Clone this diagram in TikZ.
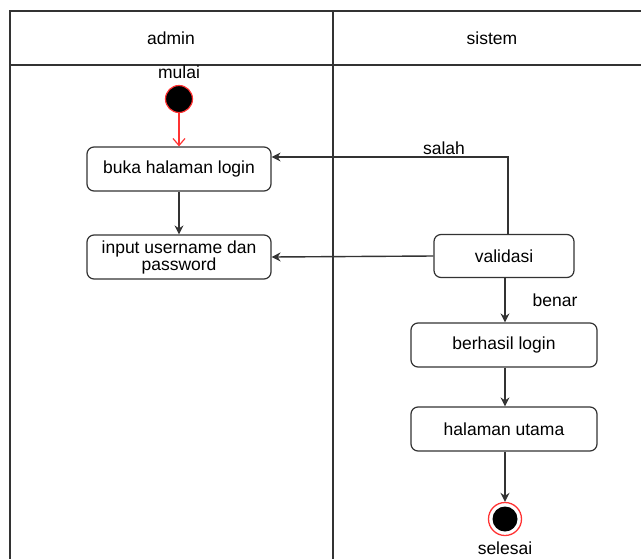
\documentclass[tikz,border=0pt]{standalone}
\usepackage{fontspec}
\setmainfont{Liberation Sans}
\usetikzlibrary{arrows.meta,positioning}
\definecolor{linegray}{HTML}{333333}
\definecolor{startred}{HTML}{FF3333}
\tikzset{
  lane/.style={draw=linegray,line width=1.4pt},
  action/.style={draw=linegray,line width=1.2pt,rounded corners=7pt,fill=white,
    align=center,inner sep=0pt,font=\fontsize{17.5}{17}\selectfont},
  flow/.style={draw=linegray,line width=1.4pt,-{Stealth[length=9pt,width=9pt]}},
  lbl/.style={font=\fontsize{17.5}{17}\selectfont,inner sep=0pt},
}
\begin{document}
\begin{tikzpicture}[x=1pt,y=-1pt]
  \useasboundingbox (0,0) rectangle (641,558);
  \clip (0,0) rectangle (641,558);
  \fill[white] (0,0) rectangle (641,558);

  % swimlanes
  \draw[lane] (10,600) -- (10,11) -- (660,11);
  \draw[lane] (10,65) -- (660,65);
  \draw[lane] (333,11) -- (333,600);
  \node[lbl] (hadmin) at (171,38) {admin};
  \node[lbl] (hsistem) at (492,38) {sistem};

  % start
  \node[circle,fill=black,draw=startred,line width=1.2pt,minimum size=27pt,inner sep=0pt] (start) at (179,99) {};
  \node[lbl] (mulai) at (179,72) {mulai};

  % actions
  \node[action,minimum width=184pt,minimum height=44pt] (buka) at (179,169) {buka halaman login};
  \node[action,minimum width=184pt,minimum height=44pt] (input) at (179,257) {input username dan\\password};
  \node[action,minimum width=140pt,minimum height=43pt] (valid) at (504,256) {validasi};
  \node[action,minimum width=186pt,minimum height=44pt] (berhasil) at (504,345) {berhasil login};
  \node[action,minimum width=186pt,minimum height=44pt] (utama) at (504,429) {halaman utama};

  % end
  \node[circle,draw=startred,line width=1.3pt,fill=white,minimum size=33pt,inner sep=0pt] (end) at (505,519) {};
  \node[circle,fill=black,minimum size=25pt,inner sep=0pt] (endin) at (end.center) {};
  \node[lbl] (selesai) at (505,548) {selesai};

  % flows
  \draw[draw=startred,line width=1.2pt,-{Straight Barb[length=7pt,width=12pt]}] (start) -- (buka);
  \draw[flow] (buka) -- (input);
  \draw[flow] (valid.west) -- (input.east);
  \coordinate (bend) at (508,157);
  \draw[flow] (valid.north -| bend) -- (bend) -- (buka.east |- bend);
  \node[lbl] (salah) at (444,148) {salah};
  \draw[flow] (valid.south -| end) -- (berhasil.north -| end);
  \node[lbl] (benar) at (555,300) {benar};
  \draw[flow] (berhasil.south -| end) -- (utama.north -| end);
  \draw[flow] (utama.south -| end) -- (end.north);
\end{tikzpicture}
\end{document}
